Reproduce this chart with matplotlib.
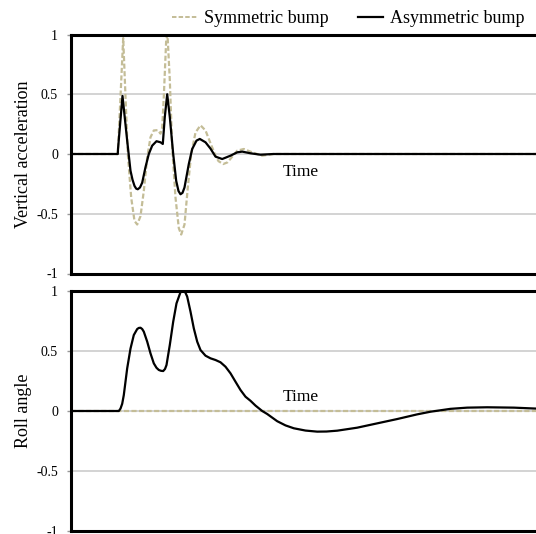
import matplotlib
matplotlib.use("Agg")
import matplotlib.pyplot as plt
from matplotlib.lines import Line2D

plt.rcParams['font.family'] = ['Liberation Serif', 'DejaVu Serif']

# ---- data (time in arbitrary units, 0..466) ----
acc_asym_t = [0, 47.3, 47.5, 52, 56.7, 60, 62, 64, 65.7, 67.3, 69.5, 71.7, 75, 78.3, 81.7,
              86, 90, 92.3, 94.3, 96.7, 99.3, 102.7, 105.7, 108, 110, 112, 114, 118.3, 121.7,
              126, 129.3, 135, 140, 145, 151.7, 160, 166.7, 171.7, 180, 190, 203, 466]
acc_asym_v = [0, 0, 0.04, 0.486, 0.11, -0.14, -0.215, -0.267, -0.29, -0.295, -0.28, -0.24,
              -0.11, 0, 0.07, 0.107, 0.098, 0.084, 0.31, 0.5, 0.31, 0, -0.225, -0.31, -0.337,
              -0.325, -0.28, -0.084, 0.042, 0.112, 0.126, 0.098, 0.045, -0.022, -0.042,
              -0.014, 0.014, 0.02, 0.006, -0.006, 0, 0]

acc_sym_t = [0, 47.3, 50, 52.7, 55, 57.3, 60.7, 64, 66.7, 70, 73.3, 76.7, 80, 83.3, 87.3,
             90, 91.7, 93.3, 95.7, 97, 99.3, 101.7, 105, 108.3, 110.7, 114, 117.3, 120.7,
             125, 130, 135, 140, 145, 148, 152.7, 157, 160, 166.7, 173.3, 181.7, 191.7, 203, 466]
acc_sym_v = [0, 0, 0.48, 0.97, 0.48, 0, -0.365, -0.56, -0.59, -0.52, -0.31, -0.03, 0.14,
             0.197, 0.2, 0.17, 0.22, 0.48, 0.955, 1.0, 0.62, 0.056, -0.365, -0.62, -0.674,
             -0.59, -0.28, 0, 0.18, 0.24, 0.197, 0.09, -0.014, -0.06, -0.084, -0.07, -0.04,
             0.028, 0.042, 0.014, -0.014, 0, 0]

roll_asym_t = [0, 48.3, 50, 51.7, 53.3, 56.7, 60, 63.3, 66.7, 68.3, 70, 71.7, 73.3, 76.7,
               80, 83.3, 86, 88.3, 90.5, 92.7, 94.5, 96, 99.3, 102.7, 106, 110, 111.7,
               113.3, 115, 116.7, 120, 123.3, 126.7, 130, 135, 140, 145, 150, 155, 160,
               165, 170, 175, 180, 185, 191.7, 196.7, 206.7, 215, 223.3, 235, 246.7, 256,
               266.7, 286.7, 306.7, 326.7, 346.7, 360, 380, 396.7, 416.7, 443.3, 466]
roll_asym_v = [0, 0, 0.02, 0.06, 0.133, 0.356, 0.52, 0.633, 0.683, 0.692, 0.694, 0.683,
               0.661, 0.578, 0.48, 0.397, 0.36, 0.342, 0.335, 0.333, 0.35, 0.383, 0.55,
               0.744, 0.897, 0.99, 0.998, 1.0, 0.985, 0.953, 0.828, 0.689, 0.578, 0.508,
               0.461, 0.439, 0.425, 0.406, 0.369, 0.314, 0.244, 0.175, 0.119, 0.085, 0.045,
               0, -0.025, -0.085, -0.12, -0.144, -0.163, -0.172, -0.171, -0.164, -0.139,
               -0.103, -0.067, -0.028, -0.006, 0.018, 0.028, 0.031, 0.028, 0.02]

roll_sym_t = [0, 466]
roll_sym_v = [0, 0]

yticks = [-1, -0.5, 0, 0.5, 1]
ytick_labels = ['-1', '-0.5', '0', '0.5', '1']
series_names = ['Symmetric bump', 'Asymmetric bump']
panel_labels = ['Vertical acceleration', 'Roll angle']

SYM_COLOR = '#C4BD97'
DASH = (0, (2.3, 1.1))

fig = plt.figure(figsize=(5.36, 5.34), dpi=100)
W, H = 536, 534
ax1 = fig.add_axes([70.5 / W, 1 - 273.5 / H, 468 / W, 239 / H])
ax2 = fig.add_axes([70.5 / W, 1 - 531 / H, 468 / W, 240 / H])

panels = [
    (ax1, acc_sym_t, acc_sym_v, acc_asym_t, acc_asym_v, -0.15),
    (ax2, roll_sym_t, roll_sym_v, roll_asym_t, roll_asym_v, 0.12),
]

for i, (ax, st, sv, at, av, ty) in enumerate(panels):
    for y in (-0.5, 0, 0.5):
        ax.axhline(y, color='#c8c8c8', lw=1.1, zorder=0)
    ax.plot(st, sv, color=SYM_COLOR, lw=1.6, ls=DASH, zorder=2)
    ax.plot(at, av, color='black', lw=1.6, zorder=3)
    ax.set_xlim(0, 468)
    ax.set_ylim(-1, 1)
    ax.set_yticks(yticks)
    ax.set_yticklabels(ytick_labels)
    ax.set_xticks([])
    ax.tick_params(axis='y', length=3, width=1, color='#999999', pad=6, labelsize=10)
    for s in ('top', 'bottom', 'left'):
        ax.spines[s].set_linewidth(2.2)
        ax.spines[s].set_color('black')
    ax.spines['right'].set_visible(False)
    ax.set_ylabel(panel_labels[i], fontsize=13, labelpad=3)
    ax.text(212, ty, 'Time', fontsize=12.5, va='center', ha='left')

handles = [Line2D([], [], color=SYM_COLOR, lw=1.4, ls=DASH),
           Line2D([], [], color='black', lw=1.6)]
fig.legend(handles, series_names, loc='upper left', bbox_to_anchor=(162 / W, 1.0),
           ncol=2, frameon=False, fontsize=13, handlelength=1.4,
           handletextpad=0.4, columnspacing=1.6, borderaxespad=0.15)

fig.savefig('out.png', dpi=100)
